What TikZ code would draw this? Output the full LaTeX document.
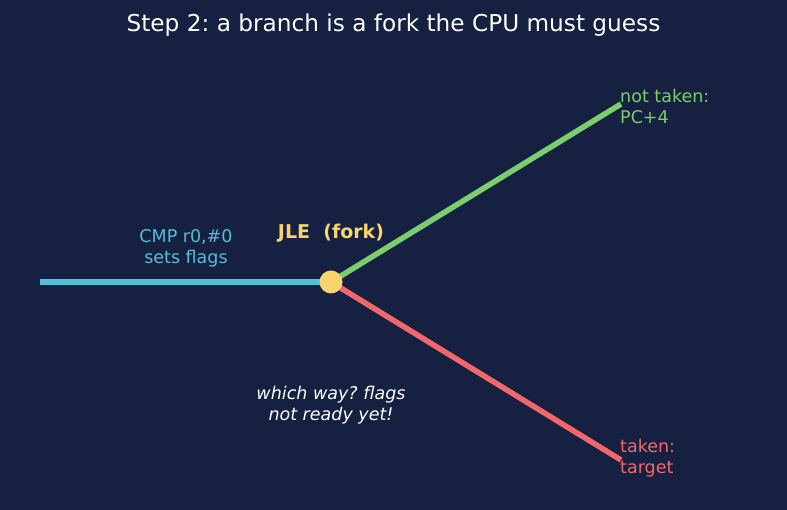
\documentclass[tikz,border=0pt]{standalone}
\usepackage{fontspec}
\setmainfont{DejaVu Sans}
\usetikzlibrary{positioning}
\frenchspacing
\definecolor{fondo}{RGB}{22,32,64}
\definecolor{cian}{RGB}{84,190,216}
\definecolor{verde}{RGB}{122,206,110}
\definecolor{rojo}{RGB}{242,104,106}
\definecolor{amarillo}{RGB}{246,212,110}
\tikzset{
  rama/.style={line width=5.5pt},
  etiq/.style={font=\fontsize{17.5}{21}\selectfont, align=left, inner sep=0pt}
}

\begin{document}
\begin{tikzpicture}[x=1pt,y=-1pt]
    % fondo
    \fill[fondo] (0,0) rectangle (787,510);
    \useasboundingbox (0,0) rectangle (787,510);
    % titulo
    \node[white, font=\fontsize{23.2}{27}\selectfont] (titulo) at (393.5,25) {Step 2: a branch is a fork the CPU must guess};
    % puntos de la bifurcacion
    \coordinate (inicio) at (40,282);
    \coordinate (fork) at (331,282);
    \coordinate (notaken) at (621,104);
    \coordinate (taken) at (621,460);
    % ramas
    \draw[rama, cian] (inicio) -- (fork);
    \draw[rama, verde] (fork) -- (notaken);
    \draw[rama, rojo] (fork) -- (taken);
    % circulo amarillo, radio 11
    \node[circle, fill=amarillo, minimum size=23pt, inner sep=0pt] (nodo) at (fork) {};
    % textos
    \node[etiq, cian, align=center] (cmp) at (186,248) {CMP r0,\#0\\sets flags};
    \node[amarillo, font=\fontsize{19}{22}\selectfont\bfseries] (jle) at (331,233) {JLE\ \ (fork)};
    \node[etiq, verde, anchor=west] (lnt) at (620,106) {not taken:\\PC+4};
    \node[etiq, rojo, anchor=west] (lt) at (620,458) {taken:\\target};
    \node[etiq, white, align=center, font=\fontsize{17.5}{21}\selectfont\itshape] (duda) at (331,405) {which way? flags\\not ready yet!};
\end{tikzpicture}
\end{document}
